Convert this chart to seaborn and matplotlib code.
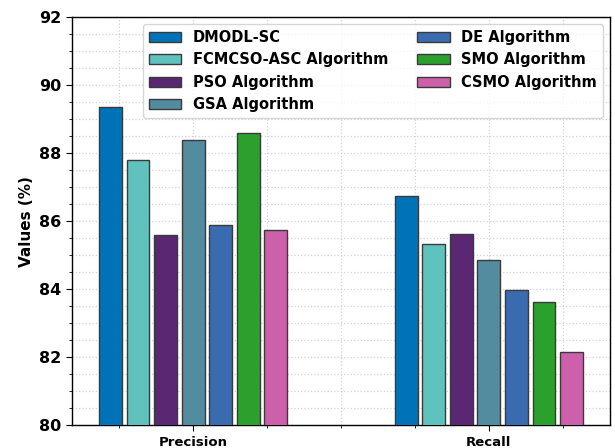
import matplotlib
matplotlib.use("Agg")
import matplotlib.pyplot as plt
from matplotlib.ticker import MultipleLocator
import seaborn as sns
import pandas as pd

metrics = ["Precision", "Recall"]
algorithms = [
    "DMODL-SC",
    "FCMCSO-ASC Algorithm",
    "PSO Algorithm",
    "GSA Algorithm",
    "DE Algorithm",
    "SMO Algorithm",
    "CSMO Algorithm",
]
precision = [89.36, 87.81, 85.59, 88.39, 85.89, 88.59, 85.75]
recall = [86.73, 85.32, 85.63, 84.87, 83.98, 83.62, 82.16]
colors = ["#0072b8", "#60c2bd", "#5a2772", "#538c9f", "#3a6bb0", "#2ca02c", "#cc60aa"]

rows = []
for alg, p, r in zip(algorithms, precision, recall):
    rows.append({"Metric": "Precision", "Algorithm": alg, "Value": p})
    rows.append({"Metric": "Recall", "Algorithm": alg, "Value": r})
df = pd.DataFrame(rows)

sns.set_style("ticks")
plt.rcParams["font.family"] = ["DejaVu Sans"]
plt.rcParams["font.weight"] = "bold"
plt.rcParams["text.color"] = "black"
plt.rcParams["axes.labelcolor"] = "black"
plt.rcParams["xtick.color"] = "black"
plt.rcParams["ytick.color"] = "black"

fig = plt.figure(figsize=(6.15, 4.48), dpi=100)
ax = fig.add_axes([0.117, 0.051, 0.875, 0.911])

sns.barplot(
    data=df, x="Metric", y="Value", hue="Algorithm",
    order=metrics, hue_order=algorithms, palette=colors, saturation=1,
    width=0.653, gap=0.17, edgecolor="#3a3a3a", linewidth=1.0,
    ax=ax, zorder=3,
)

ax.set_ylim(80, 92)
ax.set_xlim(-0.41, 1.41)
ax.yaxis.set_major_locator(MultipleLocator(2))
ax.yaxis.set_minor_locator(MultipleLocator(0.5))
ax.xaxis.set_minor_locator(MultipleLocator(0.25))
ax.grid(which="both", linestyle=":", color="#cfd0ee", linewidth=0.9, zorder=0)
ax.set_axisbelow(True)

for s in ax.spines.values():
    s.set_color("black")
    s.set_linewidth(1.0)
ax.tick_params(axis="y", which="major", labelsize=11.5, length=4, color="black")
ax.tick_params(axis="x", which="major", labelsize=9.5, length=4, color="black")
ax.tick_params(which="minor", length=2.5, color="black")
for lbl in ax.get_xticklabels() + ax.get_yticklabels():
    lbl.set_fontweight("bold")

ax.set_xlabel("")
ax.set_ylabel("Values (%)", fontsize=11, fontweight="bold")

handles, labels = ax.get_legend_handles_labels()
ax.legend(
    handles, labels, loc="upper right", ncol=2,
    prop={"weight": "bold", "size": 10.5}, handlelength=2.2,
    labelspacing=0.5, columnspacing=2.0, frameon=True, framealpha=0.8,
)

fig.savefig("out.png", dpi=100)
